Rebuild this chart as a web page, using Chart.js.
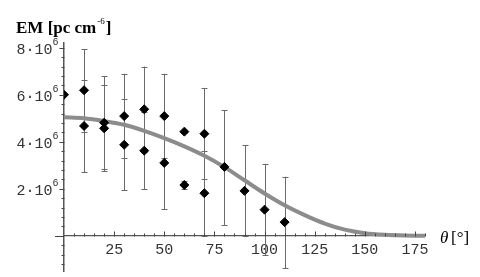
<!DOCTYPE html>
<html>
<head>
  <meta charset="utf-8" />
  <title>EM vs theta</title>
  <script src="https://cdn.jsdelivr.net/npm/chart.js"></script>
  <style>
    body { background: white; margin: 0; }
    canvas { display: block; }
  </style>
</head>
<body>
  <canvas id="emChart" width="480" height="277"></canvas>

  <script>
    // measured points (EM in units of 1e6 pc cm^-6)
    const theta   = [0, 10, 10, 20, 20, 30, 30, 40, 40, 50, 50, 60, 60, 70, 70, 80, 90, 100, 110];
    const em      = [6.0, 6.19, 4.67, 4.81, 4.57, 5.09, 3.87, 5.38, 3.62, 5.09, 3.10, 4.43, 2.16, 4.34, 1.81, 2.93, 1.91, 1.11, 0.58];
    const errLow  = [6.0, 4.41, 2.71, 2.84, 2.74, 3.31, 1.94, 3.56, 1.98, 3.31, 1.14, 4.36, 1.98, 2.40, 0.00, 0.46, -0.02, -0.82, -1.39];
    const errHigh = [6.0, 7.95, 6.63, 6.78, 6.40, 6.89, 5.80, 7.20, 5.26, 6.89, 5.06, 4.50, 2.34, 6.29, 3.62, 5.35, 3.85, 3.06, 2.51];

    // model curve
    const curveTheta = [0, 10, 20, 30, 40, 50, 60, 70, 80, 90, 100, 110, 120, 130, 140, 150, 160, 170, 180];
    const curveEM    = [5.04, 5.0, 4.88, 4.72, 4.46, 4.15, 3.8, 3.4, 2.92, 2.36, 1.8, 1.3, 0.88, 0.52, 0.26, 0.11, 0.04, 0.01, 0.0];

    const xLabelTicks = [25, 50, 75, 100, 125, 150, 175];
    const yLabelTicks = [2, 4, 6, 8];
    const yMinorStep = 0.4;   // in units of 1e6

    const M = 1e6;
    const monoFont = '15px "Liberation Mono", "DejaVu Sans Mono", monospace';

    const errorBars = {
      id: 'errorBars',
      beforeDatasetsDraw(chart) {
        const { ctx, scales: { x, y } } = chart;
        ctx.save();
        ctx.strokeStyle = '#6a6a6a';
        ctx.lineWidth = 1;
        for (let i = 0; i < theta.length; i++) {
          if (errHigh[i] - errLow[i] < 0.01) continue;
          const px = Math.round(x.getPixelForValue(theta[i])) + 0.5;
          const y1 = y.getPixelForValue(errLow[i] * M);
          const y2 = y.getPixelForValue(errHigh[i] * M);
          ctx.beginPath();
          ctx.moveTo(px, y1); ctx.lineTo(px, y2);
          ctx.moveTo(px - 3, Math.round(y1) + 0.5); ctx.lineTo(px + 3, Math.round(y1) + 0.5);
          ctx.moveTo(px - 3, Math.round(y2) + 0.5); ctx.lineTo(px + 3, Math.round(y2) + 0.5);
          ctx.stroke();
        }
        ctx.restore();
      }
    };

    // Mathematica-style tick marks and EM labels, placed through the scales
    const axisDecor = {
      id: 'axisDecor',
      afterDraw(chart) {
        const { ctx, chartArea, scales: { x, y } } = chart;
        const y0 = Math.round(y.getPixelForValue(0)) + 0.5;
        const x0 = Math.round(x.getPixelForValue(0)) + 0.5;
        ctx.save();
        ctx.strokeStyle = '#444';
        ctx.lineWidth = 1;
        ctx.beginPath();
        for (let v = 5; v <= 180; v += 5) {
          const px = Math.round(x.getPixelForValue(v)) + 0.5;
          const len = v % 25 === 0 ? 5 : 3;
          ctx.moveTo(px, y0); ctx.lineTo(px, y0 - len);
        }
        for (let k = -3; k * yMinorStep <= 8.2; k++) {
          if (k === 0) continue;
          const v = k * yMinorStep;
          const py = Math.round(y.getPixelForValue(v * M)) + 0.5;
          const major = k % 5 === 0;
          ctx.moveTo(x0, py); ctx.lineTo(x0 - (major ? 5 : 3), py);
        }
        // short stub of the theta axis left of the EM axis
        ctx.moveTo(chartArea.left - 9, y0); ctx.lineTo(chartArea.left, y0);
        ctx.stroke();

        // EM tick labels  n·10^6
        ctx.fillStyle = '#333';
        ctx.textBaseline = 'middle';
        yLabelTicks.forEach(n => {
          const py = y.getPixelForValue(n * M);
          ctx.font = monoFont;
          ctx.textAlign = 'right';
          ctx.fillText(n + '\u00b710', x0 - 12, py + 2);
          ctx.font = '10px "Liberation Mono", "DejaVu Sans Mono", monospace';
          ctx.textAlign = 'left';
          ctx.fillText('6', x0 - 12, py - 5);
        });

        // axis titles
        ctx.textAlign = 'left';
        ctx.fillStyle = '#000';
        ctx.textBaseline = 'alphabetic';
        ctx.font = 'bold 17px "Liberation Serif", "DejaVu Serif", serif';
        ctx.fillText('EM [pc cm', 16, 33);
        const w = ctx.measureText('EM [pc cm').width;
        ctx.font = '9px "Liberation Serif", serif';
        ctx.fillText('-6', 16 + w + 1, 24);
        const w2 = ctx.measureText('-6').width;
        ctx.font = 'bold 17px "Liberation Serif", "DejaVu Serif", serif';
        ctx.fillText(']', 16 + w + w2 + 2, 33);

        ctx.font = 'italic 17px "Liberation Serif", "DejaVu Serif", serif';
        ctx.fillText('\u03b8', 440, 243);
        ctx.font = '17px "Liberation Serif", "DejaVu Serif", serif';
        ctx.fillText('[\u00b0]', 451, 243);
        ctx.restore();
      }
    };

    new Chart(document.getElementById('emChart').getContext('2d'), {
      type: 'scatter',
      data: {
        datasets: [
          {
            label: 'data',
            data: theta.map((t, i) => ({ x: t, y: em[i] * M })),
            pointStyle: 'rectRot',
            pointRadius: 4.5,
            backgroundColor: '#000',
            borderColor: '#000',
            order: 1
          },
          {
            label: 'model',
            type: 'line',
            data: curveTheta.map((t, i) => ({ x: t, y: curveEM[i] * M })),
            borderColor: '#8c8c8c',
            borderWidth: 4,
            pointRadius: 0,
            cubicInterpolationMode: 'monotone',
            fill: false,
            order: 2
          }
        ]
      },
      options: {
        responsive: false,
        animation: false,
        devicePixelRatio: 1,
        layout: { padding: { left: 64, right: 55, top: 43, bottom: -6 } },
        plugins: {
          legend: { display: false },
          tooltip: { enabled: false }
        },
        scales: {
          x: {
            type: 'linear',
            min: 0,
            max: 180,
            position: { y: 0 },
            afterFit: s => { s.height = 0; s.paddingLeft = 0; s.paddingRight = 0; },
            border: { color: '#555', width: 1.2 },
            grid: { display: false, drawTicks: false },
            ticks: {
              stepSize: 5,
              autoSkip: false,
              maxRotation: 0,
              padding: 5,
              color: '#333',
              font: { family: '"Liberation Mono", "DejaVu Sans Mono", monospace', size: 15 },
              callback: v => xLabelTicks.includes(v) ? String(v) : ''
            }
          },
          y: {
            type: 'linear',
            min: -1.52 * M,
            max: 8.2 * M,
            position: 'left',
            afterFit: s => { s.width = 0; s.paddingTop = 0; s.paddingBottom = 0; },
            border: { color: '#555', width: 1.5 },
            grid: { display: false, drawTicks: false },
            ticks: { display: false }
          }
        }
      },
      plugins: [errorBars, axisDecor]
    });
  </script>
</body>
</html>
